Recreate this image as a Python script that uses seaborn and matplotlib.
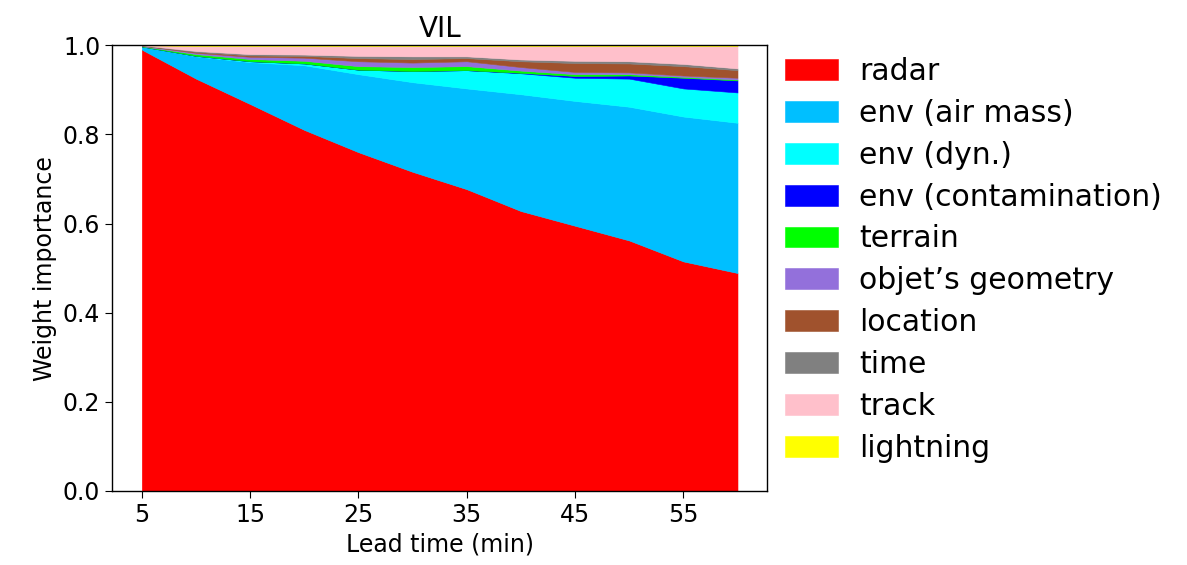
import numpy as np
import pandas as pd
import seaborn as sns
import matplotlib.pyplot as plt

# Lead times (min)
lead_time = [5, 10, 15, 20, 25, 30, 35, 40, 45, 50, 55, 60]

# Weight importance per feature group (stacked, bottom to top)
radar         = [0.990, 0.925, 0.868, 0.810, 0.760, 0.716, 0.677, 0.628, 0.595, 0.562, 0.515, 0.489]
env_air_mass  = [0.007, 0.050, 0.094, 0.145, 0.175, 0.201, 0.226, 0.262, 0.280, 0.300, 0.325, 0.337]
env_dyn       = [0.000, 0.001, 0.002, 0.004, 0.010, 0.025, 0.041, 0.047, 0.052, 0.063, 0.063, 0.068]
env_contam    = [0.000, 0.000, 0.000, 0.000, 0.000, 0.000, 0.000, 0.001, 0.004, 0.007, 0.024, 0.027]
terrain       = [0.001, 0.004, 0.005, 0.006, 0.008, 0.009, 0.009, 0.005, 0.004, 0.003, 0.002, 0.002]
geometry      = [0.001, 0.003, 0.005, 0.007, 0.011, 0.010, 0.011, 0.008, 0.005, 0.004, 0.003, 0.004]
location      = [0.0005, 0.002, 0.003, 0.004, 0.007, 0.008, 0.007, 0.013, 0.020, 0.020, 0.021, 0.017]
time_feat     = [0.0005, 0.002, 0.003, 0.003, 0.005, 0.006, 0.004, 0.004, 0.005, 0.005, 0.005, 0.004]
track         = [0.000, 0.011, 0.018, 0.019, 0.022, 0.023, 0.023, 0.030, 0.033, 0.034, 0.040, 0.050]
lightning     = [0.000, 0.002, 0.002, 0.002, 0.002, 0.002, 0.002, 0.002, 0.002, 0.002, 0.002, 0.002]

labels = ["radar", "env (air mass)", "env (dyn.)", "env (contamination)", "terrain",
          "objet\u2019s geometry", "location", "time", "track", "lightning"]
colors = ["red", "deepskyblue", "cyan", "blue", "lime",
          "mediumpurple", "sienna", "gray", "pink", "yellow"]

df = pd.DataFrame({
    "lead": lead_time,
    labels[0]: radar, labels[1]: env_air_mass, labels[2]: env_dyn,
    labels[3]: env_contam, labels[4]: terrain, labels[5]: geometry,
    labels[6]: location, labels[7]: time_feat, labels[8]: track,
    labels[9]: lightning,
})

sns.set_style("ticks")
plt.rcParams['font.family'] = ['DejaVu Sans']
plt.rcParams['text.color'] = 'black'
plt.rcParams['axes.labelcolor'] = 'black'
plt.rcParams['xtick.color'] = 'black'
plt.rcParams['ytick.color'] = 'black'
pal = sns.color_palette(colors)

fig = plt.figure(figsize=(11.87, 5.65), dpi=100)
ax = fig.add_axes([0.0944, 0.131, 0.552, 0.789])

polys = ax.stackplot(df["lead"], *[df[c] for c in labels], labels=labels, colors=pal,
                     edgecolor='face', linewidth=0.4)

ax.set_xlim(2.25, 62.75)
ax.set_ylim(0, 1)
ax.set_xticks([5, 15, 25, 35, 45, 55])
ax.set_yticks([0.0, 0.2, 0.4, 0.6, 0.8, 1.0])
ax.tick_params(labelsize=17, length=5, color="black")
for s in ax.spines.values():
    s.set_color("black")
    s.set_linewidth(1)
ax.set_xlabel("Lead time (min)", fontsize=17)
ax.set_ylabel("Weight importance", fontsize=17)
ax.set_title("VIL", fontsize=20)

fig.legend(loc="upper left", bbox_to_anchor=(0.661, 0.899), frameon=False,
           fontsize=21.5, borderpad=0, borderaxespad=0, labelspacing=0.43,
           handlelength=1.8, handleheight=0.7, handletextpad=0.7)

fig.savefig("out.png", dpi=100)
